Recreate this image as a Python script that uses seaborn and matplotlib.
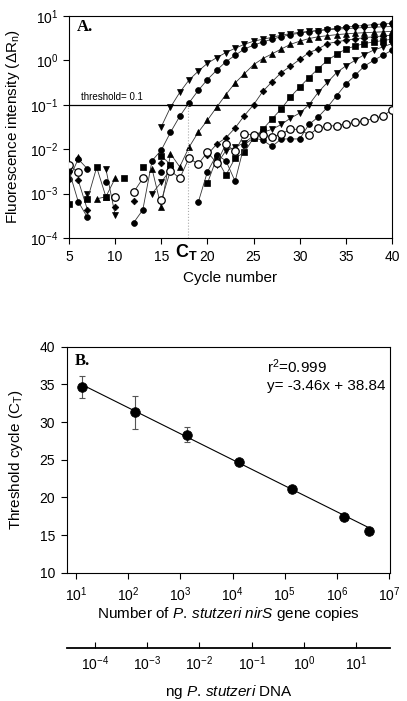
import numpy as np
import seaborn as sns
import matplotlib
matplotlib.use("Agg")
import matplotlib.pyplot as plt
import matplotlib.transforms as mtransforms
from matplotlib.ticker import FixedLocator, NullLocator

nan = np.nan

# ---- panel A: amplification curves (delta Rn per cycle) ----
cycles = list(range(5, 41))

tri_down_1 = [nan, nan, 0.00098, nan, 0.0036, 0.00033, nan, nan, nan, nan, 0.032,
              0.088, 0.19, 0.36, 0.57, 0.86, 1.15, 1.5, 1.87, 2.3, 2.7, 3.0, 3.3, 3.7,
              4.0, 4.3, 4.5, 4.7, 4.9, 5.05, 5.2, 5.35, 5.5, 5.6, 5.7, 5.8]
circle_1 = [0.0021, 0.006, 0.0036, nan, 0.0018, nan, nan, 0.00022, 0.00043, 0.0055, 0.0095,
            0.024, 0.055, 0.11, 0.21, 0.37, 0.6, 0.93, 1.3, 1.8, 2.2, 2.6, 3.0, 3.4,
            3.8, 4.1, 4.4, 4.7, 5.0, 5.3, 5.6, 5.9, 6.1, 6.4, 6.6, 6.8]
tri_up = [nan, 0.0068, nan, 0.00076, 0.00085, 0.0022, nan, nan, nan, 0.0036, 0.00049,
          0.0079, 0.004, 0.011, 0.024, 0.045, 0.088, 0.17, 0.31, 0.5, 0.8, 1.1, 1.4, 1.8,
          2.3, 2.7, 3.1, 3.4, 3.6, 3.8, 3.95, 4.1, 4.2, 4.3, 4.4, 4.5]
diamond = [nan, 0.002, 0.00043, nan, nan, 0.00049, nan, 0.00069, nan, nan, 0.005,
           nan, nan, nan, nan,
           0.0075, 0.013, 0.018, 0.03, 0.057, 0.1, 0.2, 0.33, 0.53, 0.74, 1.05, 1.5, 1.8,
           2.4, 2.6, 2.85, 3.05, 3.25, 3.4, 3.55, 3.7]
square = [0.00058, nan, 0.00074, 0.0039, 0.00085, nan, 0.0022, nan, 0.0039, nan, 0.0071, 0.0045,
          nan, nan, nan,
          0.0017, 0.0063, 0.0026, 0.0063, 0.0085, 0.018, 0.028, 0.048, 0.081, 0.15, 0.25,
          0.41, 0.65, 1.0, 1.37, 1.8, 2.1, 2.4, 2.6, 2.8, 3.0]
tri_down_2 = [nan, nan, nan, nan, nan, nan, nan, nan, nan,
              0.001, 0.0018, 0.0035,
              nan, nan, nan, nan,
              0.0045, 0.0093, 0.011, 0.014, 0.02, 0.024, 0.028, 0.036, 0.05, 0.065,
              0.1, 0.19, 0.32, 0.53, 0.75, 1.0, 1.35, 1.7, 2.0, 2.4]
circle_2 = [0.0033, 0.00066, 0.00029,
            nan, nan, nan, nan, nan, nan, nan,
            0.003,
            nan, nan, nan,
            0.00063, 0.0031, 0.0075, 0.0055, 0.0019, 0.0126, 0.018, 0.016, 0.0115, 0.017,
            0.017, 0.017, 0.036, 0.053, 0.088, 0.16, 0.29, 0.46, 0.74, 1.0, 1.3, 1.7]
no_template = [0.0045, 0.003, nan, nan, nan, 0.00085, nan, 0.00107, 0.0022, nan, 0.0007,
               0.0033, 0.0022, 0.0063, 0.0046, 0.0086, 0.0049, 0.013, 0.0089, 0.022, 0.021,
               0.021, 0.019, 0.022, 0.028, 0.028, 0.021, 0.030, 0.033, 0.034, 0.037, 0.040,
               0.043, 0.05, 0.055, 0.078]

threshold = 0.1
ct_example = 17.9
a_yticks = [1e-4, 1e-3, 1e-2, 1e-1, 1e0, 1e1]

# ---- panel B: standard curve ----
copies = [13.4, 136, 1365, 13500, 135000, 1.35e6, 4.1e6]
ct_mean = [34.7, 31.3, 28.3, 24.7, 21.1, 17.45, 15.55]
ct_sd = [1.45, 2.2, 1.0, 0.15, 0.15, 0.15, 0.15]
slope, intercept = -3.46, 38.84
copies_per_ng = 2.33e5
copy_ticks = [1e1, 1e2, 1e3, 1e4, 1e5, 1e6, 1e7]
ng_ticks = [1e-4, 1e-3, 1e-2, 1e-1, 1e0, 1e1]

sns.set_style("ticks", {"axes.edgecolor": "black", "xtick.color": "black",
                        "ytick.color": "black", "text.color": "black",
                        "axes.labelcolor": "black"})
plt.rcParams["font.family"] = ["Liberation Sans", "DejaVu Sans"]
plt.rcParams["mathtext.fontset"] = "custom"
plt.rcParams["mathtext.rm"] = "Liberation Sans"
plt.rcParams["mathtext.it"] = "Liberation Sans:italic"
plt.rcParams["mathtext.bf"] = "Liberation Sans:bold"

fig = plt.figure(figsize=(4.07, 7.01), dpi=100)
axA = fig.add_axes([0.1695, 0.6605, 0.7936, 0.3167])
axB = fig.add_axes([0.1646, 0.183, 0.7936, 0.3224])

# panel A
curves = [(tri_down_1, "v", 4.5), (circle_1, "o", 4.2), (tri_up, "^", 4.5),
          (diamond, "D", 3.4), (square, "s", 3.7), (tri_down_2, "v", 4.5),
          (circle_2, "o", 4.2)]
for vals, mk, ms in curves:
    axA.plot(cycles, vals, color="#333333", lw=0.6, marker=mk, ms=ms,
             mfc="black", mec="black", mew=0.5)
axA.plot(cycles, no_template, color="#333333", lw=0.6, marker="o", ms=5.4,
         mfc="white", mec="black", mew=0.9, zorder=4)

axA.axhline(threshold, color="black", lw=0.9)
axA.plot([ct_example, ct_example], [a_yticks[0], threshold], ls=":", color="#aaaaaa", lw=0.8)
axA.text(6.3, threshold * 1.15, "threshold= 0.1", fontsize=7, va="bottom")
axA.text(0.025, 0.985, "A.", transform=axA.transAxes, fontsize=12, va="top",
         fontfamily="Liberation Serif", fontweight="bold")
trA = mtransforms.blended_transform_factory(axA.transData, axA.transAxes)
axA.text(ct_example - 0.2, -0.02, r"$\mathbf{C}_{\mathbf{T}}$", transform=trA,
         ha="center", va="top", fontsize=13)

axA.set_yscale("log")
axA.set_ylim(a_yticks[0], a_yticks[-1])
axA.set_xlim(5, 40)
axA.set_xticks(range(5, 41, 5))
axA.yaxis.set_major_locator(FixedLocator(a_yticks))
axA.yaxis.set_minor_locator(NullLocator())
axA.tick_params(direction="out", length=4, width=0.8, labelsize=10)
axA.tick_params(axis="x", pad=4.5)
axA.set_xlabel("Cycle number", fontsize=11)
axA.set_ylabel(r"Fluorescence intensity ($\Delta$R$_\mathrm{n}$)", fontsize=11)
axA.xaxis.set_label_coords(0.5, -0.15)
axA.yaxis.set_label_coords(-0.146, 0.5)
for sp in axA.spines.values():
    sp.set_linewidth(0.8)

# panel B
axB.errorbar(copies, ct_mean, yerr=ct_sd, fmt="none", ecolor="#555555",
             elinewidth=0.8, capsize=2.5, capthick=0.8, zorder=2)
fit_x = [copies[0], copies[-1]]
fit_y = [intercept + slope * np.log10(c) for c in fit_x]
sns.lineplot(x=fit_x, y=fit_y, ax=axB, color="black", lw=0.8, legend=False, zorder=2)
sns.scatterplot(x=copies, y=ct_mean, ax=axB, color="black", s=48, edgecolor="black",
                legend=False, zorder=3)

axB.set_xscale("log")
axB.set_xlim(6.8, 1.03e7)
axB.set_ylim(10, 40)
axB.set_yticks(range(10, 41, 5))
axB.xaxis.set_major_locator(FixedLocator(copy_ticks))
axB.xaxis.set_minor_locator(NullLocator())
axB.tick_params(direction="out", length=4, width=0.8, labelsize=10)
axB.tick_params(axis="x", pad=5)
axB.tick_params(axis="y", pad=4.5)
axB.text(0.025, 0.97, "B.", transform=axB.transAxes, fontsize=12, va="top",
         fontfamily="Liberation Serif", fontweight="bold")
axB.text(0.62, 0.885, r"r$^2$=0.999", transform=axB.transAxes, fontsize=11, va="baseline")
axB.text(0.62, 0.808, "y= -3.46x + 38.84", transform=axB.transAxes, fontsize=11,
         va="baseline")
axB.set_xlabel(r"Number of $\it{P.\,stutzeri\ nirS}$ gene copies", fontsize=11)
axB.set_ylabel(r"Threshold cycle (C$_\mathrm{T}$)", fontsize=11)
axB.xaxis.set_label_coords(0.5, -0.143)
axB.yaxis.set_label_coords(-0.13, 0.5)
for sp in axB.spines.values():
    sp.set_linewidth(0.8)

secax = axB.secondary_xaxis(-0.335, functions=(lambda x: x / copies_per_ng,
                                               lambda x: x * copies_per_ng))
secax.xaxis.set_major_locator(FixedLocator(ng_ticks))
secax.xaxis.set_minor_locator(NullLocator())
secax.tick_params(direction="in", length=4, width=0.8, labelsize=10, pad=4)
secax.spines["bottom"].set_linewidth(1.3)
axB.text(0.5, -0.488, r"ng $\it{P.\,stutzeri}$ DNA", transform=axB.transAxes,
         fontsize=11, ha="center", va="top")

fig.savefig("out.png", dpi=100)
